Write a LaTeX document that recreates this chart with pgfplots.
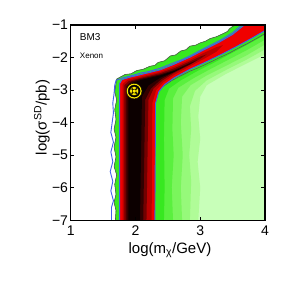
\documentclass[border=0pt]{standalone}
\usepackage{pgfplots}
\pgfplotsset{compat=1.18}
\usepackage{fontspec}
\setmainfont{Liberation Sans}
\definecolor{glight}{RGB}{200,255,185}
\definecolor{gpale}{RGB}{176,252,152}
\definecolor{gpb}{RGB}{150,249,122}
\definecolor{gmid}{RGB}{122,245,92}
\definecolor{gma}{RGB}{90,240,62}
\definecolor{gbright}{RGB}{55,232,32}
\definecolor{rred}{RGB}{240,0,0}
\definecolor{rdark}{RGB}{185,0,0}
\definecolor{rdarker}{RGB}{115,0,0}
\definecolor{rblack}{RGB}{50,0,0}
\definecolor{rcore}{RGB}{12,0,0}
\definecolor{cblue}{RGB}{65,95,235}
\definecolor{cgrey}{RGB}{85,85,85}
\definecolor{myyellow}{RGB}{255,235,0}
\begin{document}
\begin{tikzpicture}
\useasboundingbox (-70.7bp,-70.7bp) rectangle (220.3bp,220.3bp);
\begin{axis}[
  scale only axis, width=194.3bp, height=195.3bp,
  xmin=1, xmax=4, ymin=-7, ymax=-1,
  xtick={1,2,3,4}, xticklabels={1,2,3,4},
  ytick={-7,-6,-5,-4,-3,-2,-1},
  yticklabels={−7,−6,−5,−4,−3,−2,−1},
  tick align=inside, major tick length=3.5bp,
  axis line style={line width=1.1bp},
  tick style={line width=0.8bp, black},
  ticklabel style={font=\fontsize{14bp}{17bp}\selectfont},
  yticklabel style={inner sep=0pt, xshift=-2.5bp},
  xticklabel style={inner sep=0pt, yshift=-5.5bp},
  axis on top,
  xlabel={log(m\textsubscript{χ}/GeV)},
  ylabel={log(σ\textsuperscript{SD}/pb)},
  label style={font=\fontsize{15bp}{18bp}\selectfont},
  xlabel style={at={(axis description cs:0.511,-0.114)}, anchor=north, inner sep=0pt},
  ylabel style={at={(axis description cs:-0.1065,0.526)}, anchor=south, inner sep=0pt},
]
% green layers
\addplot[fill=glight, draw=none] coordinates {(1.69,-7) (1.70,-6.7) (1.67,-6.45) (1.70,-6.2) (1.68,-5.9) (1.71,-5.6) (1.67,-5.35) (1.70,-5.05) (1.67,-4.75) (1.70,-4.45) (1.67,-4.2) (1.70,-3.9) (1.68,-3.6) (1.71,-3.3) (1.68,-3.05) (1.70,-2.80) (1.71,-2.66) (1.84,-2.52) (1.93,-2.50) (2.02,-2.40) (2.12,-2.36) (2.22,-2.27) (2.30,-2.24) (2.35,-2.15) (2.45,-2.10) (2.54,-1.95) (2.62,-1.92) (2.70,-1.80) (2.78,-1.76) (2.84,-1.65) (2.93,-1.62) (3.0,-1.55) (3.08,-1.50) (3.15,-1.42) (3.25,-1.36) (3.36,-1.26) (3.42,-1.20) (3.45,-1.12) (3.49,-1.06) (3.54,-1.0) (4,-1) (4,-7)} -- cycle;
\addplot[fill=gpale, draw=none] coordinates {(1.69,-7) (1.70,-6.7) (1.67,-6.45) (1.70,-6.2) (1.68,-5.9) (1.71,-5.6) (1.67,-5.35) (1.70,-5.05) (1.67,-4.75) (1.70,-4.45) (1.67,-4.2) (1.70,-3.9) (1.68,-3.6) (1.71,-3.3) (1.68,-3.05) (1.70,-2.80) (1.71,-2.66) (1.84,-2.52) (1.93,-2.50) (2.02,-2.40) (2.12,-2.36) (2.22,-2.27) (2.30,-2.24) (2.35,-2.15) (2.45,-2.10) (2.54,-1.95) (2.62,-1.92) (2.70,-1.80) (2.78,-1.76) (2.84,-1.65) (2.93,-1.62) (3.0,-1.55) (3.08,-1.50) (3.15,-1.42) (3.25,-1.36) (3.36,-1.26) (3.42,-1.20) (3.45,-1.12) (3.49,-1.06) (3.54,-1.0) (4,-1) (4,-1.9) (3.7,-2.2) (3.4,-2.5) (3.1,-2.85) (3.0,-3.2) (2.97,-3.8) (3.0,-4.5) (2.96,-5.2) (3.0,-6.0) (2.97,-7)} -- cycle;
\addplot[fill=gpb, draw=none] coordinates {(1.69,-7) (1.70,-6.7) (1.67,-6.45) (1.70,-6.2) (1.68,-5.9) (1.71,-5.6) (1.67,-5.35) (1.70,-5.05) (1.67,-4.75) (1.70,-4.45) (1.67,-4.2) (1.70,-3.9) (1.68,-3.6) (1.71,-3.3) (1.68,-3.05) (1.70,-2.80) (1.71,-2.66) (1.84,-2.52) (1.93,-2.50) (2.02,-2.40) (2.12,-2.36) (2.22,-2.27) (2.30,-2.24) (2.35,-2.15) (2.45,-2.10) (2.54,-1.95) (2.62,-1.92) (2.70,-1.80) (2.78,-1.76) (2.84,-1.65) (2.93,-1.62) (3.0,-1.55) (3.08,-1.50) (3.15,-1.42) (3.25,-1.36) (3.36,-1.26) (3.42,-1.20) (3.45,-1.12) (3.49,-1.06) (3.54,-1.0) (4,-1) (4,-1.75) (3.7,-2.08) (3.4,-2.38) (3.1,-2.7) (2.92,-3.02) (2.84,-3.5) (2.86,-4.2) (2.83,-5) (2.86,-5.8) (2.84,-7)} -- cycle;
\addplot[fill=gmid, draw=none] coordinates {(1.69,-7) (1.70,-6.7) (1.67,-6.45) (1.70,-6.2) (1.68,-5.9) (1.71,-5.6) (1.67,-5.35) (1.70,-5.05) (1.67,-4.75) (1.70,-4.45) (1.67,-4.2) (1.70,-3.9) (1.68,-3.6) (1.71,-3.3) (1.68,-3.05) (1.70,-2.80) (1.71,-2.66) (1.84,-2.52) (1.93,-2.50) (2.02,-2.40) (2.12,-2.36) (2.22,-2.27) (2.30,-2.24) (2.35,-2.15) (2.45,-2.10) (2.54,-1.95) (2.62,-1.92) (2.70,-1.80) (2.78,-1.76) (2.84,-1.65) (2.93,-1.62) (3.0,-1.55) (3.08,-1.50) (3.15,-1.42) (3.25,-1.36) (3.36,-1.26) (3.42,-1.20) (3.45,-1.12) (3.49,-1.06) (3.54,-1.0) (4,-1) (4,-1.6) (3.7,-1.95) (3.4,-2.25) (3.1,-2.55) (2.85,-2.85) (2.72,-3.2) (2.70,-4) (2.73,-5) (2.70,-6) (2.72,-7)} -- cycle;
\addplot[fill=gma, draw=none] coordinates {(1.69,-7) (1.70,-6.7) (1.67,-6.45) (1.70,-6.2) (1.68,-5.9) (1.71,-5.6) (1.67,-5.35) (1.70,-5.05) (1.67,-4.75) (1.70,-4.45) (1.67,-4.2) (1.70,-3.9) (1.68,-3.6) (1.71,-3.3) (1.68,-3.05) (1.70,-2.80) (1.71,-2.66) (1.84,-2.52) (1.93,-2.50) (2.02,-2.40) (2.12,-2.36) (2.22,-2.27) (2.30,-2.24) (2.35,-2.15) (2.45,-2.10) (2.54,-1.95) (2.62,-1.92) (2.70,-1.80) (2.78,-1.76) (2.84,-1.65) (2.93,-1.62) (3.0,-1.55) (3.08,-1.50) (3.15,-1.42) (3.25,-1.36) (3.36,-1.26) (3.42,-1.20) (3.45,-1.12) (3.49,-1.06) (3.54,-1.0) (4,-1) (4,-1.45) (3.72,-1.77) (3.45,-2.05) (3.15,-2.36) (2.9,-2.63) (2.66,-2.93) (2.58,-3.25) (2.57,-4.2) (2.59,-5) (2.56,-6) (2.58,-7)} -- cycle;
\addplot[fill=gbright, draw=none] coordinates {(1.69,-7) (1.70,-6.7) (1.67,-6.45) (1.70,-6.2) (1.68,-5.9) (1.71,-5.6) (1.67,-5.35) (1.70,-5.05) (1.67,-4.75) (1.70,-4.45) (1.67,-4.2) (1.70,-3.9) (1.68,-3.6) (1.71,-3.3) (1.68,-3.05) (1.70,-2.80) (1.71,-2.66) (1.84,-2.52) (1.93,-2.50) (2.02,-2.40) (2.12,-2.36) (2.22,-2.27) (2.30,-2.24) (2.35,-2.15) (2.45,-2.10) (2.54,-1.95) (2.62,-1.92) (2.70,-1.80) (2.78,-1.76) (2.84,-1.65) (2.93,-1.62) (3.0,-1.55) (3.08,-1.50) (3.15,-1.42) (3.25,-1.36) (3.36,-1.26) (3.42,-1.20) (3.45,-1.12) (3.49,-1.06) (3.54,-1.0) (4,-1) (4,-1.3) (3.75,-1.58) (3.5,-1.85) (3.2,-2.17) (2.95,-2.42) (2.7,-2.7) (2.52,-2.95) (2.45,-3.3) (2.44,-4.5) (2.45,-6) (2.44,-7)} -- cycle;
% red / black band
\addplot[fill=rred, draw=none] coordinates {(1.76,-7) (1.76,-2.80) (1.80,-2.68) (1.90,-2.61) (2.07,-2.53) (2.38,-2.38) (2.58,-2.22) (2.84,-1.99) (3.05,-1.77) (3.3,-1.52) (3.5,-1.29) (3.68,-1.0) (4,-1) (4,-1.17) (3.8,-1.40) (3.56,-1.66) (3.3,-1.93) (3.05,-2.17) (2.84,-2.36) (2.6,-2.62) (2.45,-2.83) (2.36,-3.05) (2.31,-3.4) (2.30,-7)} -- cycle;
\addplot[fill=rdark, draw=none] coordinates {(1.80,-7) (1.80,-2.82) (1.88,-2.68) (2.07,-2.59) (2.38,-2.44) (2.6,-2.28) (2.84,-2.07) (3.05,-1.86) (3.25,-1.68) (3.35,-1.62) (3.25,-1.82) (3.05,-2.05) (2.84,-2.27) (2.6,-2.53) (2.43,-2.76) (2.32,-3.0) (2.26,-3.4) (2.25,-7)} -- cycle;
\addplot[fill=rdarker, draw=none] coordinates {(1.83,-7) (1.83,-2.85) (1.90,-2.72) (2.07,-2.63) (2.38,-2.48) (2.6,-2.33) (2.84,-2.12) (3.0,-1.97) (3.1,-1.90) (3.0,-2.04) (2.84,-2.22) (2.6,-2.47) (2.42,-2.70) (2.28,-2.95) (2.20,-3.3) (2.17,-7)} -- cycle;
\addplot[fill=rblack, draw=none] coordinates {(1.86,-7) (1.86,-2.88) (1.93,-2.74) (2.07,-2.66) (2.38,-2.52) (2.6,-2.38) (2.84,-2.17) (2.95,-2.08) (2.84,-2.21) (2.6,-2.44) (2.40,-2.66) (2.24,-2.95) (2.15,-3.3) (2.12,-7)} -- cycle;
\addplot[fill=rcore, draw=none] coordinates {(1.89,-7) (1.89,-2.9) (1.96,-2.77) (2.1,-2.68) (2.38,-2.55) (2.6,-2.41) (2.75,-2.28) (2.6,-2.44) (2.38,-2.62) (2.2,-2.86) (2.10,-3.2) (2.07,-7)} -- cycle;
% contours
\addplot[cgrey, line width=0.6bp] coordinates {(1.69,-7) (1.70,-6.7) (1.67,-6.45) (1.70,-6.2) (1.68,-5.9) (1.71,-5.6) (1.67,-5.35) (1.70,-5.05) (1.67,-4.75) (1.70,-4.45) (1.67,-4.2) (1.70,-3.9) (1.68,-3.6) (1.71,-3.3) (1.68,-3.05) (1.70,-2.80) (1.71,-2.66) (1.84,-2.52) (1.93,-2.50) (2.02,-2.40) (2.12,-2.36) (2.22,-2.27) (2.30,-2.24) (2.35,-2.15) (2.45,-2.10) (2.54,-1.95) (2.62,-1.92) (2.70,-1.80) (2.78,-1.76) (2.84,-1.65) (2.93,-1.62) (3.0,-1.55) (3.08,-1.50) (3.15,-1.42) (3.25,-1.36) (3.36,-1.26) (3.42,-1.20) (3.45,-1.12) (3.49,-1.06) (3.54,-1.0)};
\addplot[cgrey, line width=0.6bp] coordinates {(2.42,-2.90) (2.55,-2.72) (2.7,-2.56) (2.84,-2.42) (2.95,-2.33) (3.05,-2.24) (3.2,-2.10) (3.3,-2.00) (3.45,-1.86) (3.56,-1.74) (3.7,-1.60) (3.8,-1.49) (3.9,-1.38) (4.0,-1.26)};
\addplot[cblue, line width=0.9bp] coordinates {(1.63,-7) (1.63,-6.6) (1.66,-6.4) (1.62,-6.1) (1.65,-5.8) (1.61,-5.5) (1.65,-5.2) (1.62,-4.9) (1.66,-4.6) (1.62,-4.3) (1.64,-4.0) (1.66,-3.7) (1.65,-3.4) (1.67,-3.1) (1.68,-2.85) (1.70,-2.70) (1.81,-2.62) (1.97,-2.54) (2.07,-2.48) (2.20,-2.43) (2.38,-2.33) (2.58,-2.17) (2.70,-2.08) (2.84,-1.95) (3.05,-1.73) (3.3,-1.48) (3.5,-1.24) (3.64,-1.0)};
\addplot[cblue, line width=0.9bp] coordinates {(1.755,-7) (1.755,-2.80) (1.79,-2.68) (1.90,-2.61) (2.07,-2.53) (2.38,-2.38) (2.58,-2.22) (2.84,-1.99) (3.05,-1.77) (3.3,-1.52) (3.5,-1.29) (3.68,-1.0)};
\addplot[cblue, line width=0.9bp] coordinates {(2.30,-7) (2.31,-3.4) (2.36,-3.05) (2.45,-2.83) (2.6,-2.62) (2.84,-2.36) (3.05,-2.17) (3.3,-1.93) (3.56,-1.66) (3.8,-1.40) (4,-1.17)};
% best fit marker
\addplot[only marks, mark=*, mark size=7.8bp, mark options={fill=myyellow, draw=none}] coordinates {(1.98,-3.03)};
\addplot[only marks, mark=*, mark size=6.0bp, mark options={fill=black, draw=none}] coordinates {(1.98,-3.03)};
\addplot[only marks, mark=*, mark size=4.6bp, mark options={fill=myyellow, draw=none}] coordinates {(1.98,-3.03)};
\addplot[only marks, mark=x, mark size=3.7bp, mark options={black, line width=1.4bp}] coordinates {(1.98,-3.03)};
\addplot[only marks, mark=*, mark size=2.0bp, mark options={fill=myyellow, draw=none}] coordinates {(1.98,-3.03)};
\node[anchor=west, inner sep=0pt, font=\fontsize{10bp}{12bp}\selectfont] at (axis cs:1.14,-1.36) {BM3};
\node[anchor=west, inner sep=0pt, font=\fontsize{8bp}{10bp}\selectfont] at (axis cs:1.14,-1.95) {Xenon};
\end{axis}
\end{tikzpicture}
\end{document}
